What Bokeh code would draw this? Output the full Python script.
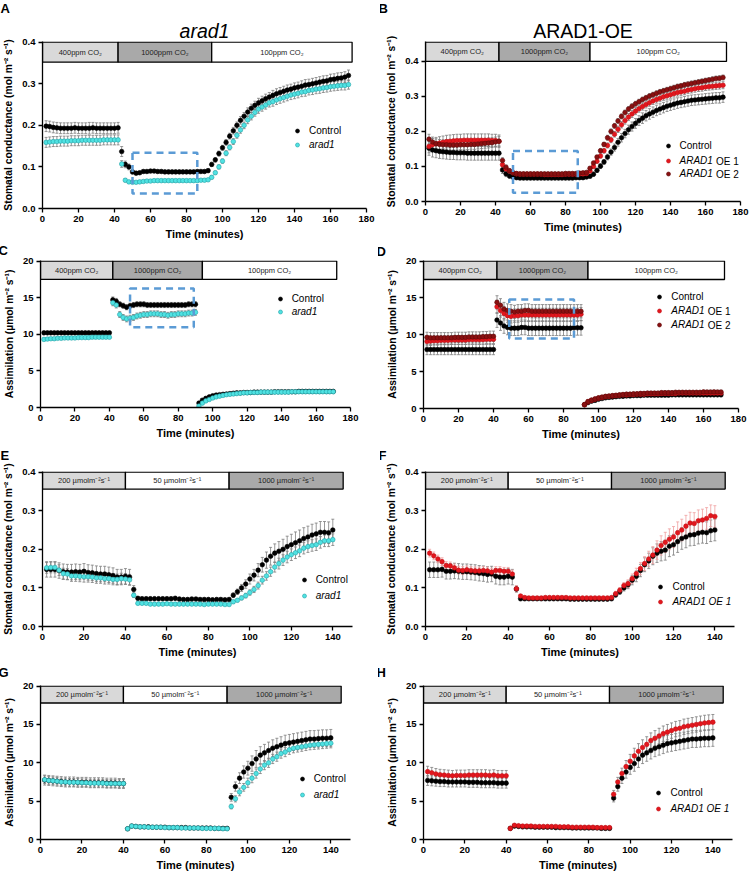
from bokeh.plotting import figure
from bokeh.models import (ColumnDataSource, Whisker, TeeHead, Legend, LegendItem, Title,
                          Label, FixedTicker, PrintfTickFormatter, Range1d, BoxAnnotation)
from bokeh.layouts import column, row
from bokeh.embed import file_html
from bokeh.resources import INLINE
from bokeh.core.properties import value

FONT = "Liberation Sans"

# ---------------- data ----------------
T_CO2 = [2, 4, 6, 8, 10, 12, 14, 16, 18, 20, 22, 24, 26, 28, 30, 32, 34, 36, 38, 40, 42,
         44, 46, 48, 50, 52, 54, 56, 58, 60, 62, 64, 66, 68, 70, 72, 74, 76, 78, 80, 82, 84, 86, 88, 90, 92,
         94, 96, 98, 100, 102, 104, 106, 108, 110, 112, 114, 116, 118, 120, 122, 124, 126, 128, 130,
         132, 134, 136, 138, 140, 142, 144, 146, 148, 150, 152, 154, 156, 158, 160, 162, 164, 166, 168, 170]
T_LIGHT = [2, 4, 6, 8, 10, 12, 14, 16, 18, 20, 22, 24, 26, 28, 30, 32, 34, 36, 38, 40,
           42, 44, 46, 48, 50, 52, 54, 56, 58, 60, 62, 64, 66, 68, 70, 72, 74, 76, 78, 80, 82, 84, 86, 88, 90,
           92, 94, 96, 98, 100, 102, 104, 106, 108, 110, 112, 114, 116, 118, 120, 122, 124, 126, 128, 130,
           132, 134, 136, 138, 140]

CO2_PHASE_LABELS = ["400ppm CO\u2082", "1000ppm CO\u2082", "100ppm CO\u2082"]
CO2_PHASE_EDGES = [0, 42, 94, 172]
LIGHT_PHASE_LABELS = ["200 \u00b5molm\u207b\u00b2s\u207b\u00b9", "50 \u00b5molm\u207b\u00b2s\u207b\u00b9",
                      "1000 \u00b5molm\u207b\u00b2s\u207b\u00b9"]
LIGHT_PHASE_EDGES = [0, 40, 90, 145]
X_TICKS_CO2 = [0, 20, 40, 60, 80, 100, 120, 140, 160, 180]
X_TICKS_LIGHT = [0, 20, 40, 60, 80, 100, 120, 140]
GS_TICKS = [0.0, 0.1, 0.2, 0.3, 0.4]
AS_TICKS = [0, 5, 10, 15, 20]

# Panel A  (stomatal conductance, CO2 steps, arad1)
A_CTRL = ([0.198, 0.197, 0.195, 0.194, 0.193, 0.193, 0.193, 0.193, 0.194, 0.193, 0.193, 0.193, 0.193,
           0.194, 0.193, 0.193, 0.193, 0.193, 0.193, 0.193, 0.194]
          + [0.137, 0.106, 0.100, 0.088, 0.085, 0.086, 0.089, 0.089, 0.090, 0.090, 0.089, 0.089, 0.088,
             0.088, 0.088, 0.088, 0.088, 0.088, 0.088, 0.088, 0.088, 0.089, 0.089, 0.089, 0.091]
          + [0.106, 0.117, 0.132, 0.146, 0.159, 0.174, 0.187, 0.200, 0.212, 0.222, 0.232, 0.241, 0.248,
             0.254, 0.259, 0.264, 0.268, 0.272, 0.276, 0.279, 0.282, 0.285, 0.287, 0.290, 0.292, 0.294,
             0.297, 0.298, 0.300, 0.302, 0.304, 0.306, 0.307, 0.310, 0.311, 0.313, 0.314, 0.316, 0.320])
A_CTRL_ERR = ([0.013, 0.013, 0.013, 0.013, 0.013, 0.013, 0.013, 0.013, 0.013, 0.013, 0.013, 0.013, 0.014,
               0.013, 0.013, 0.013, 0.013, 0.013, 0.013, 0.013, 0.013]
              + [0.012, 0.008, 0.007, 0.005, 0.004, 0.004, 0.004, 0.004, 0.004, 0.004, 0.004, 0.004, 0.004,
                 0.004, 0.004, 0.004, 0.004, 0.004, 0.004, 0.004, 0.004, 0.004, 0.004, 0.004, 0.004]
              + [0.005, 0.005, 0.006, 0.006, 0.007, 0.007, 0.008, 0.008, 0.009, 0.009, 0.010, 0.010, 0.010,
                 0.011, 0.011, 0.011, 0.011, 0.012, 0.012, 0.012, 0.012, 0.012, 0.012, 0.012, 0.012, 0.013,
                 0.013, 0.013, 0.013, 0.013, 0.013, 0.013, 0.013, 0.013, 0.013, 0.013, 0.013, 0.013, 0.013])
A_ARAD1 = ([0.159, 0.160, 0.161, 0.161, 0.162, 0.162, 0.162, 0.163, 0.163, 0.163, 0.164, 0.164, 0.164,
            0.164, 0.164, 0.164, 0.165, 0.165, 0.165, 0.165, 0.165]
           + [0.107, 0.068, 0.064, 0.063, 0.063, 0.064, 0.065, 0.066, 0.066, 0.067, 0.067, 0.067, 0.067,
              0.067, 0.067, 0.067, 0.067, 0.067, 0.067, 0.067, 0.067, 0.067, 0.068, 0.068, 0.069]
           + [0.075, 0.086, 0.100, 0.114, 0.133, 0.147, 0.161, 0.176, 0.189, 0.200, 0.213, 0.222, 0.231,
              0.239, 0.244, 0.249, 0.254, 0.257, 0.261, 0.264, 0.267, 0.270, 0.273, 0.275, 0.277, 0.280,
              0.281, 0.284, 0.285, 0.287, 0.288, 0.290, 0.291, 0.293, 0.294, 0.295, 0.296, 0.296, 0.298])
A_ARAD1_ERR = ([0.012, 0.012, 0.012, 0.012, 0.012, 0.012, 0.012, 0.012, 0.012, 0.012, 0.012, 0.012, 0.012,
                0.012, 0.012, 0.012, 0.012, 0.012, 0.012, 0.012, 0.012]
               + [0.008, 0.004, 0.003, 0.003, 0.003, 0.003, 0.003, 0.003, 0.003, 0.003, 0.003, 0.003, 0.003,
                  0.003, 0.003, 0.003, 0.003, 0.003, 0.003, 0.003, 0.003, 0.003, 0.003, 0.003, 0.003]
               + [0.004, 0.004, 0.005, 0.005, 0.006, 0.006, 0.007, 0.007, 0.008, 0.008, 0.009, 0.009, 0.009,
                  0.010, 0.010, 0.010, 0.010, 0.011, 0.011, 0.011, 0.011, 0.011, 0.011, 0.011, 0.011, 0.011,
                  0.011, 0.011, 0.011, 0.011, 0.011, 0.011, 0.011, 0.011, 0.011, 0.011, 0.011, 0.011, 0.011])

# Panel B  (stomatal conductance, CO2 steps, ARAD1-OE)
B_CTRL = ([0.152, 0.147, 0.145, 0.143, 0.142, 0.141, 0.140, 0.140, 0.139, 0.139, 0.139, 0.138, 0.138,
           0.138, 0.138, 0.138, 0.138, 0.138, 0.138, 0.138, 0.138]
          + [0.090, 0.079, 0.073, 0.070, 0.068, 0.067, 0.067, 0.067, 0.067, 0.067, 0.067, 0.067, 0.067,
             0.067, 0.067, 0.067, 0.067, 0.067, 0.067, 0.067, 0.067, 0.068, 0.068, 0.068, 0.070]
          + [0.072, 0.078, 0.089, 0.101, 0.113, 0.127, 0.141, 0.154, 0.169, 0.182, 0.194, 0.205, 0.214,
             0.223, 0.231, 0.238, 0.245, 0.250, 0.255, 0.260, 0.264, 0.268, 0.272, 0.275, 0.278, 0.281,
             0.283, 0.285, 0.287, 0.289, 0.290, 0.291, 0.292, 0.293, 0.294, 0.295, 0.296, 0.296, 0.298])
B_CTRL_ERR = ([0.020, 0.020, 0.020, 0.020, 0.020, 0.020, 0.020, 0.020, 0.020, 0.020, 0.020, 0.020, 0.020,
               0.020, 0.020, 0.020, 0.020, 0.020, 0.020, 0.020, 0.020]
              + [0.010, 0.008, 0.007, 0.006, 0.005, 0.005, 0.005, 0.005, 0.005, 0.005, 0.005, 0.005, 0.005,
                 0.005, 0.005, 0.005, 0.005, 0.005, 0.005, 0.005, 0.005, 0.005, 0.005, 0.005, 0.005]
              + [0.005, 0.006, 0.006, 0.007, 0.007, 0.008, 0.009, 0.010, 0.011, 0.012, 0.012, 0.013, 0.013,
                 0.014, 0.014, 0.015, 0.015, 0.015, 0.015, 0.015, 0.015, 0.015, 0.015, 0.015, 0.015, 0.015,
                 0.015, 0.015, 0.015, 0.015, 0.015, 0.015, 0.015, 0.015, 0.015, 0.015, 0.015, 0.015, 0.015])
B_OE1 = ([0.157, 0.162, 0.165, 0.167, 0.169, 0.171, 0.172, 0.173, 0.174, 0.174, 0.175, 0.175, 0.175,
          0.175, 0.175, 0.175, 0.175, 0.175, 0.174, 0.174, 0.172]
         + [0.105, 0.093, 0.087, 0.082, 0.079, 0.078, 0.078, 0.078, 0.078, 0.078, 0.078, 0.078, 0.077,
            0.077, 0.077, 0.077, 0.077, 0.077, 0.078, 0.078, 0.078, 0.078, 0.079, 0.079, 0.080]
         + [0.087, 0.100, 0.115, 0.130, 0.145, 0.160, 0.176, 0.192, 0.206, 0.219, 0.231, 0.241, 0.250,
            0.258, 0.265, 0.271, 0.277, 0.282, 0.287, 0.291, 0.295, 0.299, 0.302, 0.305, 0.308, 0.311,
            0.313, 0.315, 0.318, 0.320, 0.322, 0.324, 0.325, 0.327, 0.328, 0.329, 0.330, 0.331, 0.332])
B_OE1_ERR = ([0.018, 0.018, 0.018, 0.018, 0.018, 0.018, 0.018, 0.018, 0.018, 0.018, 0.018, 0.018, 0.018,
              0.018, 0.018, 0.018, 0.018, 0.018, 0.018, 0.018, 0.018]
             + [0.008, 0.006, 0.005, 0.004, 0.004, 0.004, 0.004, 0.004, 0.004, 0.004, 0.004, 0.004, 0.004,
                0.004, 0.004, 0.004, 0.004, 0.004, 0.004, 0.004, 0.004, 0.004, 0.004, 0.004, 0.004]
             + [0.005, 0.005, 0.006, 0.006, 0.007, 0.007, 0.008, 0.008, 0.009, 0.009, 0.010, 0.010, 0.010,
                0.010, 0.010, 0.010, 0.010, 0.010, 0.010, 0.010, 0.010, 0.010, 0.010, 0.010, 0.010, 0.010,
                0.010, 0.010, 0.010, 0.010, 0.010, 0.010, 0.010, 0.010, 0.010, 0.010, 0.010, 0.010, 0.010])
B_OE2 = ([0.178, 0.170, 0.165, 0.163, 0.162, 0.162, 0.161, 0.161, 0.161, 0.162, 0.162, 0.162, 0.163,
          0.163, 0.164, 0.165, 0.166, 0.167, 0.168, 0.170, 0.172]
         + [0.117, 0.098, 0.088, 0.082, 0.080, 0.079, 0.079, 0.079, 0.079, 0.079, 0.079, 0.079, 0.079,
            0.079, 0.079, 0.079, 0.079, 0.079, 0.080, 0.080, 0.080, 0.080, 0.081, 0.082, 0.083]
         + [0.095, 0.110, 0.127, 0.145, 0.163, 0.182, 0.200, 0.216, 0.230, 0.243, 0.254, 0.264, 0.272,
            0.279, 0.285, 0.291, 0.296, 0.301, 0.305, 0.309, 0.313, 0.316, 0.319, 0.322, 0.325, 0.328,
            0.330, 0.333, 0.335, 0.337, 0.339, 0.341, 0.343, 0.345, 0.347, 0.349, 0.351, 0.352, 0.354])
B_OE2_ERR = ([0.014, 0.014, 0.014, 0.014, 0.014, 0.014, 0.014, 0.014, 0.014, 0.014, 0.014, 0.014, 0.014,
              0.014, 0.014, 0.014, 0.014, 0.014, 0.014, 0.014, 0.014]
             + [0.008, 0.006, 0.005, 0.004, 0.004, 0.004, 0.004, 0.004, 0.004, 0.004, 0.004, 0.004, 0.004,
                0.004, 0.004, 0.004, 0.004, 0.004, 0.004, 0.004, 0.004, 0.004, 0.004, 0.004, 0.004]
             + [0.004, 0.005, 0.005, 0.006, 0.006, 0.007, 0.007, 0.007, 0.007, 0.007, 0.007, 0.007, 0.007,
                0.007, 0.007, 0.007, 0.007, 0.007, 0.007, 0.007, 0.007, 0.007, 0.007, 0.007, 0.007, 0.007,
                0.007, 0.007, 0.007, 0.007, 0.007, 0.007, 0.007, 0.007, 0.007, 0.007, 0.007, 0.007, 0.007])

# Panel C  (assimilation, CO2 steps, arad1)
C_CTRL = ([10.2, 10.2, 10.2, 10.2, 10.2, 10.2, 10.2, 10.2, 10.2, 10.2, 10.2, 10.2, 10.2, 10.2, 10.2,
           10.2, 10.2, 10.2, 10.2, 10.2]
          + [14.7, 14.5, 14.1, 13.9, 13.7, 13.9, 14.0, 14.1, 14.1, 14.1, 14.0, 14.0, 14.0, 14.0, 14.0,
             14.0, 14.0, 14.0, 14.0, 14.0, 14.0, 14.0, 14.1, 14.1, 14.1]
          + [0.6, 1.0, 1.25, 1.45, 1.6, 1.7, 1.75, 1.8, 1.85, 1.9, 1.95, 2.0, 2.0, 2.05, 2.05, 2.05, 2.1,
             2.1, 2.1, 2.1, 2.1, 2.1, 2.15, 2.15, 2.15, 2.15, 2.15, 2.15, 2.15, 2.2, 2.2, 2.2, 2.2, 2.2,
             2.2, 2.2, 2.2, 2.2, 2.2, 2.2])
C_CTRL_ERR = ([0.2, 0.2, 0.2, 0.2, 0.2, 0.2, 0.2, 0.2, 0.2, 0.2, 0.2, 0.2, 0.2, 0.2, 0.2, 0.2, 0.2, 0.2,
               0.2, 0.2]
              + [0.4, 0.4, 0.35, 0.35, 0.35, 0.35, 0.35, 0.35, 0.35, 0.35, 0.35, 0.35, 0.35, 0.35, 0.35,
                 0.35, 0.35, 0.35, 0.35, 0.35, 0.35, 0.35, 0.35, 0.35, 0.35]
              + [0.15, 0.15, 0.15, 0.15, 0.15, 0.15, 0.15, 0.15, 0.15, 0.15, 0.15, 0.15, 0.15, 0.15, 0.15,
                 0.15, 0.15, 0.15, 0.15, 0.15, 0.15, 0.15, 0.15, 0.15, 0.15, 0.15, 0.15, 0.15, 0.15, 0.15,
                 0.15, 0.15, 0.15, 0.15, 0.15, 0.15, 0.15, 0.15, 0.15, 0.15])
C_ARAD1 = ([9.3, 9.35, 9.4, 9.4, 9.45, 9.45, 9.5, 9.5, 9.5, 9.5, 9.55, 9.55, 9.55, 9.55, 9.6, 9.6, 9.6,
            9.6, 9.6, 9.6]
           + [14.3, 14.0, 12.7, 12.3, 12.1, 12.2, 12.3, 12.5, 12.6, 12.7, 12.7, 12.8, 12.8, 12.8, 12.7,
              12.7, 12.6, 12.7, 12.7, 12.8, 12.8, 12.8, 12.9, 12.9, 13.0]
           + [0.2, 0.6, 0.9, 1.1, 1.3, 1.45, 1.55, 1.65, 1.75, 1.8, 1.85, 1.9, 1.95, 2.0, 2.0, 2.05, 2.05,
              2.05, 2.1, 2.1, 2.1, 2.1, 2.1, 2.1, 2.1, 2.1, 2.1, 2.15, 2.15, 2.15, 2.15, 2.15, 2.15, 2.15,
              2.15, 2.15, 2.15, 2.15, 2.15, 2.15])
C_ARAD1_ERR = ([0.15, 0.15, 0.15, 0.15, 0.15, 0.15, 0.15, 0.15, 0.15, 0.15, 0.15, 0.15, 0.15, 0.15, 0.15,
                0.15, 0.15, 0.15, 0.15, 0.15]
               + [0.4, 0.4, 0.4, 0.4, 0.4, 0.4, 0.4, 0.4, 0.4, 0.4, 0.4, 0.4, 0.4, 0.4, 0.4, 0.4, 0.4, 0.4,
                  0.4, 0.4, 0.4, 0.4, 0.4, 0.4, 0.4]
               + [0.12, 0.12, 0.12, 0.12, 0.12, 0.12, 0.12, 0.12, 0.12, 0.12, 0.12, 0.12, 0.12, 0.12, 0.12,
                  0.12, 0.12, 0.12, 0.12, 0.12, 0.12, 0.12, 0.12, 0.12, 0.12, 0.12, 0.12, 0.12, 0.12, 0.12,
                  0.12, 0.12, 0.12, 0.12, 0.12, 0.12, 0.12, 0.12, 0.12, 0.12])

# Panel D  (assimilation, CO2 steps, ARAD1-OE)
D_CTRL = ([8.0, 8.0, 8.0, 8.0, 8.0, 8.0, 8.0, 8.0, 8.0, 8.0, 8.0, 8.0, 8.0, 8.0, 8.0, 8.0, 8.0, 8.0,
           8.0, 8.0]
          + [12.0, 11.6, 11.2, 11.0, 10.9, 10.9, 10.9, 11.0, 11.0, 10.9, 10.9, 10.9, 10.9, 10.9, 10.9,
             10.9, 10.9, 10.9, 10.9, 10.9, 10.9, 10.9, 10.95, 10.95, 10.95]
          + [0.5, 0.8, 1.0, 1.1, 1.25, 1.35, 1.45, 1.5, 1.55, 1.6, 1.65, 1.65, 1.7, 1.7, 1.75, 1.75, 1.75,
             1.8, 1.8, 1.8, 1.8, 1.8, 1.8, 1.8, 1.8, 1.85, 1.85, 1.85, 1.85, 1.85, 1.85, 1.85, 1.85, 1.85,
             1.85, 1.85, 1.85, 1.85, 1.85, 1.85])
D_CTRL_ERR = ([0.7, 0.7, 0.7, 0.7, 0.7, 0.7, 0.7, 0.7, 0.7, 0.7, 0.7, 0.7, 0.7, 0.7, 0.7, 0.7, 0.7, 0.7,
               0.7, 0.7]
              + [1.0, 1.0, 1.0, 1.0, 1.0, 1.0, 1.0, 1.0, 1.0, 1.0, 1.0, 1.0, 1.0, 1.0, 1.0, 1.0, 1.0, 1.0,
                 1.0, 1.0, 1.0, 1.0, 1.0, 1.0, 1.0]
              + [0.15, 0.15, 0.15, 0.15, 0.15, 0.15, 0.15, 0.15, 0.15, 0.15, 0.15, 0.15, 0.15, 0.15, 0.15,
                 0.15, 0.15, 0.15, 0.15, 0.15, 0.15, 0.15, 0.15, 0.15, 0.15, 0.15, 0.15, 0.15, 0.15, 0.15,
                 0.15, 0.15, 0.15, 0.15, 0.15, 0.15, 0.15, 0.15, 0.15, 0.15])
D_OE1 = ([9.1, 9.15, 9.2, 9.2, 9.25, 9.25, 9.25, 9.3, 9.3, 9.3, 9.3, 9.3, 9.35, 9.35, 9.35, 9.35, 9.35,
          9.4, 9.4, 9.4]
         + [13.8, 13.3, 12.9, 12.6, 12.5, 12.6, 12.6, 12.7, 12.7, 12.7, 12.7, 12.7, 12.7, 12.7, 12.7, 12.7,
            12.7, 12.7, 12.7, 12.7, 12.7, 12.7, 12.7, 12.7, 12.8]
         + [0.5, 0.9, 1.1, 1.25, 1.4, 1.5, 1.6, 1.65, 1.7, 1.75, 1.8, 1.85, 1.85, 1.9, 1.9, 1.95, 1.95,
            1.95, 2.0, 2.0, 2.0, 2.0, 2.05, 2.05, 2.05, 2.05, 2.05, 2.1, 2.1, 2.1, 2.1, 2.1, 2.1, 2.1,
            2.1, 2.1, 2.1, 2.1, 2.1, 2.1])
D_OE1_ERR = ([0.6, 0.6, 0.6, 0.6, 0.6, 0.6, 0.6, 0.6, 0.6, 0.6, 0.6, 0.6, 0.6, 0.6, 0.6, 0.6, 0.6, 0.6,
              0.6, 0.6]
             + [0.9, 0.9, 0.9, 0.9, 0.9, 0.9, 0.9, 0.9, 0.9, 0.9, 0.9, 0.9, 0.9, 0.9, 0.9, 0.9, 0.9, 0.9,
                0.9, 0.9, 0.9, 0.9, 0.9, 0.9, 0.9]
             + [0.2, 0.2, 0.2, 0.2, 0.2, 0.2, 0.2, 0.2, 0.2, 0.2, 0.2, 0.2, 0.2, 0.2, 0.2, 0.2, 0.2, 0.2,
                0.2, 0.2, 0.2, 0.2, 0.2, 0.2, 0.2, 0.2, 0.2, 0.2, 0.2, 0.2, 0.2, 0.2, 0.2, 0.2, 0.2, 0.2,
                0.2, 0.2, 0.2, 0.2])
D_OE2 = ([9.65, 9.6, 9.6, 9.6, 9.6, 9.6, 9.6, 9.6, 9.65, 9.65, 9.65, 9.65, 9.7, 9.7, 9.7, 9.7, 9.75,
          9.75, 9.8, 9.8]
         + [14.4, 14.0, 13.5, 13.3, 13.2, 13.1, 13.2, 13.2, 13.3, 13.3, 13.2, 13.2, 13.2, 13.2, 13.2, 13.2,
            13.2, 13.2, 13.2, 13.2, 13.2, 13.2, 13.2, 13.2, 13.2]
         + [0.55, 0.95, 1.15, 1.3, 1.45, 1.55, 1.65, 1.7, 1.75, 1.8, 1.85, 1.9, 1.95, 1.95, 2.0, 2.0, 2.05,
            2.05, 2.1, 2.1, 2.1, 2.1, 2.15, 2.15, 2.15, 2.15, 2.2, 2.2, 2.2, 2.2, 2.2, 2.2, 2.2, 2.2,
            2.25, 2.25, 2.25, 2.25, 2.25, 2.25])
D_OE2_ERR = ([0.7, 0.7, 0.7, 0.7, 0.7, 0.7, 0.7, 0.7, 0.7, 0.7, 0.7, 0.7, 0.7, 0.7, 0.7, 0.7, 0.7, 0.7,
              0.7, 0.7]
             + [0.9, 0.9, 0.9, 0.9, 0.9, 0.9, 0.9, 0.9, 0.9, 0.9, 0.9, 0.9, 0.9, 0.9, 0.9, 0.9, 0.9, 0.9,
                0.9, 0.9, 0.9, 0.9, 0.9, 0.9, 0.9]
             + [0.2, 0.2, 0.2, 0.2, 0.2, 0.2, 0.2, 0.2, 0.2, 0.2, 0.2, 0.2, 0.2, 0.2, 0.2, 0.2, 0.2, 0.2,
                0.2, 0.2, 0.2, 0.2, 0.2, 0.2, 0.2, 0.2, 0.2, 0.2, 0.2, 0.2, 0.2, 0.2, 0.2, 0.2, 0.2, 0.2,
                0.2, 0.2, 0.2, 0.2])

# Panel E  (stomatal conductance, light steps, arad1)
E_CTRL = ([0.148, 0.148, 0.148, 0.145, 0.142, 0.141, 0.141, 0.142, 0.141, 0.143, 0.140, 0.139, 0.137,
           0.136, 0.136, 0.134, 0.132, 0.128, 0.128, 0.130, 0.128]
          + [0.096]
          + [0.073, 0.072, 0.072, 0.072, 0.072, 0.072, 0.072, 0.072, 0.072, 0.073, 0.071, 0.070, 0.070,
             0.071, 0.071, 0.070, 0.070, 0.070, 0.069, 0.070, 0.070, 0.069, 0.070]
          + [0.081, 0.090, 0.100, 0.110, 0.123, 0.133, 0.146, 0.160, 0.172, 0.182, 0.190, 0.195, 0.200,
             0.207, 0.212, 0.217, 0.222, 0.228, 0.232, 0.237, 0.240, 0.244, 0.244, 0.243, 0.250])
E_CTRL_ERR = ([0.020, 0.020, 0.020, 0.020, 0.020, 0.020, 0.020, 0.020, 0.020, 0.020, 0.020, 0.020, 0.020,
               0.020, 0.020, 0.020, 0.020, 0.020, 0.020, 0.020, 0.020]
              + [0.010]
              + [0.005, 0.005, 0.005, 0.005, 0.005, 0.005, 0.005, 0.005, 0.005, 0.005, 0.005, 0.005, 0.005,
                 0.005, 0.005, 0.005, 0.005, 0.005, 0.005, 0.005, 0.005, 0.005, 0.005]
              + [0.006, 0.007, 0.009, 0.011, 0.013, 0.015, 0.017, 0.019, 0.021, 0.023, 0.024, 0.025, 0.026,
                 0.027, 0.027, 0.028, 0.028, 0.028, 0.028, 0.028, 0.028, 0.028, 0.028, 0.028, 0.028])
E_ARAD1 = ([0.152, 0.153, 0.153, 0.146, 0.137, 0.136, 0.131, 0.131, 0.130, 0.129, 0.129, 0.128, 0.126,
            0.126, 0.124, 0.124, 0.122, 0.122, 0.124, 0.123, 0.121]
           + [0.081]
           + [0.060, 0.060, 0.060, 0.058, 0.058, 0.058, 0.058, 0.059, 0.058, 0.058, 0.058, 0.058, 0.058,
              0.058, 0.058, 0.058, 0.057, 0.058, 0.058, 0.058, 0.058, 0.057, 0.057]
           + [0.064, 0.068, 0.074, 0.080, 0.088, 0.096, 0.106, 0.120, 0.131, 0.142, 0.154, 0.163, 0.172,
              0.180, 0.186, 0.191, 0.196, 0.203, 0.207, 0.210, 0.212, 0.218, 0.222, 0.222, 0.225])
E_ARAD1_ERR = ([0.014, 0.014, 0.014, 0.014, 0.014, 0.014, 0.014, 0.014, 0.014, 0.014, 0.014, 0.014, 0.014,
                0.014, 0.014, 0.014, 0.014, 0.014, 0.014, 0.014, 0.014]
               + [0.006]
               + [0.003, 0.003, 0.003, 0.003, 0.003, 0.003, 0.003, 0.003, 0.003, 0.003, 0.003, 0.003, 0.003,
                  0.003, 0.003, 0.003, 0.003, 0.003, 0.003, 0.003, 0.003, 0.003, 0.003]
               + [0.004, 0.004, 0.005, 0.006, 0.007, 0.008, 0.009, 0.010, 0.011, 0.012, 0.013, 0.014, 0.014,
                  0.015, 0.015, 0.015, 0.015, 0.015, 0.015, 0.015, 0.015, 0.015, 0.015, 0.015, 0.015])

# Panel F  (stomatal conductance, light steps, ARAD1 OE 1)
F_CTRL = ([0.147, 0.147, 0.147, 0.148, 0.143, 0.143, 0.144, 0.143, 0.142, 0.142, 0.141, 0.140, 0.138,
           0.137, 0.135, 0.136, 0.130, 0.128, 0.128, 0.130, 0.128]
          + [0.097]
          + [0.072, 0.072, 0.072, 0.072, 0.072, 0.072, 0.072, 0.072, 0.072, 0.072, 0.072, 0.072, 0.071,
             0.071, 0.071, 0.071, 0.071, 0.071, 0.071, 0.071, 0.071, 0.071, 0.072]
          + [0.082, 0.090, 0.100, 0.108, 0.120, 0.130, 0.145, 0.160, 0.170, 0.182, 0.190, 0.195, 0.198,
             0.208, 0.212, 0.220, 0.228, 0.232, 0.237, 0.238, 0.242, 0.244, 0.243, 0.248, 0.250])
F_CTRL_ERR = ([0.020, 0.020, 0.020, 0.020, 0.020, 0.020, 0.020, 0.020, 0.020, 0.020, 0.020, 0.020, 0.020,
               0.020, 0.020, 0.020, 0.020, 0.020, 0.020, 0.020, 0.020]
              + [0.008]
              + [0.005, 0.005, 0.005, 0.005, 0.005, 0.005, 0.005, 0.005, 0.005, 0.005, 0.005, 0.005, 0.005,
                 0.005, 0.005, 0.005, 0.005, 0.005, 0.005, 0.005, 0.005, 0.005, 0.005]
              + [0.006, 0.007, 0.008, 0.010, 0.012, 0.014, 0.016, 0.018, 0.020, 0.022, 0.024, 0.025, 0.026,
                 0.027, 0.027, 0.028, 0.028, 0.028, 0.028, 0.028, 0.028, 0.028, 0.028, 0.028, 0.028])
F_OE1 = ([0.190, 0.183, 0.175, 0.168, 0.158, 0.157, 0.152, 0.146, 0.145, 0.147, 0.145, 0.144, 0.144,
          0.145, 0.144, 0.141, 0.145, 0.145, 0.143, 0.143, 0.136]
         + [0.098]
         + [0.079, 0.075, 0.074, 0.074, 0.074, 0.074, 0.075, 0.075, 0.075, 0.075, 0.075, 0.075, 0.074,
            0.074, 0.074, 0.074, 0.074, 0.074, 0.074, 0.074, 0.074, 0.074, 0.075]
         + [0.085, 0.094, 0.106, 0.111, 0.124, 0.137, 0.150, 0.163, 0.175, 0.185, 0.198, 0.210, 0.218,
            0.226, 0.232, 0.243, 0.250, 0.260, 0.268, 0.267, 0.274, 0.276, 0.280, 0.287, 0.285])
F_OE1_ERR = ([0.010, 0.010, 0.010, 0.010, 0.010, 0.010, 0.010, 0.010, 0.010, 0.010, 0.010, 0.010, 0.010,
              0.010, 0.010, 0.010, 0.010, 0.010, 0.010, 0.010, 0.010]
             + [0.008]
             + [0.004, 0.004, 0.004, 0.004, 0.004, 0.004, 0.004, 0.004, 0.004, 0.004, 0.004, 0.004, 0.004,
                0.004, 0.004, 0.004, 0.004, 0.004, 0.004, 0.004, 0.004, 0.004, 0.004]
             + [0.006, 0.007, 0.008, 0.010, 0.012, 0.014, 0.016, 0.018, 0.020, 0.022, 0.024, 0.025, 0.026,
                0.027, 0.027, 0.028, 0.028, 0.028, 0.028, 0.028, 0.028, 0.028, 0.028, 0.028, 0.028])

# Panel G  (assimilation, light steps, arad1)
G_CTRL = ([7.75, 7.7, 7.65, 7.6, 7.55, 7.5, 7.5, 7.5, 7.45, 7.45, 7.45, 7.4, 7.4, 7.4, 7.4, 7.35, 7.35,
           7.35, 7.3, 7.3]
          + [1.4, 1.75, 1.7, 1.65, 1.65, 1.65, 1.6, 1.6, 1.6, 1.6, 1.55, 1.55, 1.55, 1.55, 1.55, 1.5, 1.5,
             1.5, 1.5, 1.5, 1.5, 1.45, 1.45, 1.45, 1.45]
          + [5.5, 6.9, 8.0, 8.8, 9.3, 9.9, 10.5, 11.0, 11.3, 11.6, 11.9, 12.1, 12.3, 12.5, 12.6, 12.7, 12.8,
             12.9, 13.0, 13.1, 13.1, 13.15, 13.2, 13.2, 13.25])
G_CTRL_ERR = ([0.65, 0.65, 0.65, 0.65, 0.65, 0.65, 0.65, 0.65, 0.65, 0.65, 0.65, 0.65, 0.65, 0.65, 0.65,
               0.65, 0.65, 0.65, 0.65, 0.65]
              + [0.1, 0.1, 0.1, 0.1, 0.1, 0.1, 0.1, 0.1, 0.1, 0.1, 0.1, 0.1, 0.1, 0.1, 0.1, 0.1, 0.1, 0.1,
                 0.1, 0.1, 0.1, 0.1, 0.1, 0.1, 0.1]
              + [0.5, 0.6, 0.7, 0.8, 0.9, 1.0, 1.1, 1.1, 1.1, 1.1, 1.1, 1.1, 1.1, 1.1, 1.1, 1.1, 1.1, 1.1,
                 1.1, 1.1, 1.1, 1.1, 1.1, 1.1, 1.1])
G_ARAD1 = ([7.8, 7.7, 7.65, 7.6, 7.5, 7.5, 7.45, 7.45, 7.45, 7.4, 7.4, 7.35, 7.35, 7.35, 7.35, 7.3, 7.3,
            7.3, 7.3, 7.3]
           + [1.4, 1.75, 1.7, 1.65, 1.65, 1.6, 1.6, 1.6, 1.6, 1.55, 1.55, 1.55, 1.55, 1.5, 1.5, 1.5, 1.5,
              1.5, 1.45, 1.45, 1.45, 1.45, 1.45, 1.4, 1.4]
           + [4.3, 5.3, 6.2, 6.8, 7.4, 8.0, 8.6, 9.2, 9.7, 10.0, 10.5, 10.8, 11.2, 11.4, 11.7, 11.9, 12.0,
              12.1, 12.2, 12.3, 12.35, 12.4, 12.45, 12.5, 12.55])
G_ARAD1_ERR = ([0.5, 0.5, 0.5, 0.5, 0.5, 0.5, 0.5, 0.5, 0.5, 0.5, 0.5, 0.5, 0.5, 0.5, 0.5, 0.5, 0.5, 0.5,
                0.5, 0.5]
               + [0.08, 0.08, 0.08, 0.08, 0.08, 0.08, 0.08, 0.08, 0.08, 0.08, 0.08, 0.08, 0.08, 0.08, 0.08,
                  0.08, 0.08, 0.08, 0.08, 0.08, 0.08, 0.08, 0.08, 0.08, 0.08]
               + [0.3, 0.4, 0.5, 0.5, 0.6, 0.6, 0.6, 0.6, 0.6, 0.6, 0.6, 0.6, 0.6, 0.6, 0.6, 0.6, 0.6, 0.6,
                  0.6, 0.6, 0.6, 0.6, 0.6, 0.6, 0.6])

# Panel H  (assimilation, light steps, ARAD1 OE 1)
H_CTRL = ([7.7, 7.65, 7.6, 7.55, 7.55, 7.5, 7.5, 7.5, 7.5, 7.5, 7.45, 7.45, 7.45, 7.4, 7.4, 7.4, 7.4,
           7.35, 7.35, 7.35]
          + [1.45, 1.75, 1.7, 1.65, 1.65, 1.65, 1.6, 1.6, 1.6, 1.6, 1.6, 1.55, 1.55, 1.55, 1.55, 1.5, 1.5,
             1.5, 1.5, 1.5, 1.5, 1.5, 1.45, 1.45, 1.45]
          + [5.4, 6.9, 8.0, 8.8, 9.4, 9.9, 10.5, 11.0, 11.3, 11.6, 11.9, 12.1, 12.3, 12.5, 12.6, 12.7, 12.8,
             12.9, 13.0, 13.1, 13.1, 13.15, 13.2, 13.2, 13.25])
H_CTRL_ERR = ([0.65, 0.65, 0.65, 0.65, 0.65, 0.65, 0.65, 0.65, 0.65, 0.65, 0.65, 0.65, 0.65, 0.65, 0.65,
               0.65, 0.65, 0.65, 0.65, 0.65]
              + [0.1, 0.1, 0.1, 0.1, 0.1, 0.1, 0.1, 0.1, 0.1, 0.1, 0.1, 0.1, 0.1, 0.1, 0.1, 0.1, 0.1, 0.1,
                 0.1, 0.1, 0.1, 0.1, 0.1, 0.1, 0.1]
              + [0.5, 0.6, 0.7, 0.8, 0.9, 1.0, 1.1, 1.1, 1.1, 1.1, 1.1, 1.1, 1.1, 1.1, 1.1, 1.1, 1.1, 1.1,
                 1.1, 1.1, 1.1, 1.1, 1.1, 1.1, 1.1])
H_OE1 = ([8.85, 8.7, 8.55, 8.45, 8.4, 8.35, 8.3, 8.35, 8.35, 8.35, 8.4, 8.4, 8.4, 8.4, 8.4, 8.35, 8.4,
          8.3, 8.3, 8.3]
         + [1.45, 1.85, 1.8, 1.75, 1.75, 1.75, 1.7, 1.7, 1.7, 1.7, 1.7, 1.7, 1.65, 1.65, 1.65, 1.6, 1.6, 1.6,
            1.6, 1.6, 1.6, 1.55, 1.55, 1.55, 1.55]
         + [5.9, 7.5, 8.6, 9.5, 10.2, 10.9, 11.5, 12.0, 12.4, 12.9, 13.2, 13.5, 13.8, 14.0, 14.2, 14.4, 14.5,
            14.7, 14.8, 14.9, 15.0, 15.1, 15.2, 15.25, 15.3])
H_OE1_ERR = ([0.7, 0.7, 0.7, 0.7, 0.7, 0.7, 0.7, 0.7, 0.7, 0.7, 0.7, 0.7, 0.7, 0.7, 0.7, 0.7, 0.7, 0.7,
              0.7, 0.7]
             + [0.1, 0.1, 0.1, 0.1, 0.1, 0.1, 0.1, 0.1, 0.1, 0.1, 0.1, 0.1, 0.1, 0.1, 0.1, 0.1, 0.1, 0.1,
                0.1, 0.1, 0.1, 0.1, 0.1, 0.1, 0.1]
             + [0.5, 0.6, 0.7, 0.8, 0.9, 1.0, 1.0, 1.0, 1.0, 1.0, 1.0, 1.0, 1.0, 1.0, 1.0, 1.0, 1.0, 1.0,
                1.0, 1.0, 1.0, 1.0, 1.0, 1.0, 1.0])

# highlight boxes (left, right, bottom, top) in data units
BOX_A = (50, 86, 0.036, 0.134)
BOX_B = (50, 87, 0.025, 0.144)
BOX_C = (52, 89, 10.95, 16.25)
BOX_D = (49, 86, 9.5, 14.8)

# ---------------- styles ----------------
ERR_GREY = "#7d7d7d"
STY_CTRL = dict(fill="#000000", line="#000000", err=ERR_GREY)
STY_ARAD1 = dict(fill="#50e2e2", line="#23a2a8", err=ERR_GREY)
STY_OE1 = dict(fill="#e3161d", line="#c21016", err=ERR_GREY)
STY_OE1_PINK = dict(fill="#e3161d", line="#c21016", err="#f0a0a0")
STY_OE2 = dict(fill="#8a1011", line="#5e0808", err=ERR_GREY)
CO2_BAND_COLORS = ["#d9d9d9", "#a9a9a9", "#ffffff"]
LIGHT_BAND_COLORS = ["#d9d9d9", "#ffffff", "#a9a9a9"]
GS_LABEL = "Stomatal conductance (mol m\u207b\u00b2 s\u207b\u00b9)"
AS_LABEL = "Assimilation (\u00b5mol m\u207b\u00b2 s\u207b\u00b9)"
LETTER_SIZE = "13px"
LETTER_PANEL = 16.5


def make_panel(letter, name, name_italic, t, series, labels, edges, band_colors,
               x_end, xticks, y_end, band_lo, band_hi, yticks, yfmt, ylabel, geom, legend, box=None):
    ml, fw, mr, mt, fh, mb = geom
    p = figure(frame_width=fw, frame_height=fh, output_backend="svg", toolbar_location=None,
               x_range=Range1d(0, x_end), y_range=Range1d(0, y_end * 1.004),
               min_border_left=ml, min_border_right=mr, min_border_top=mt, min_border_bottom=mb,
               title=None, background_fill_color="white", border_fill_color="white",
               outline_line_color=None)
    if name is not None:
        p.add_layout(Title(text=name, align="center", vertical_align="bottom", standoff=0,
                           text_font=FONT, text_font_size="19.5px",
                           text_font_style="italic" if name_italic else "normal",
                           text_color="black"), "above")
        p.add_layout(Title(text=letter, align="left", vertical_align="top", offset=-(ml + 2),
                           standoff=0, text_font=FONT, text_font_size=LETTER_SIZE,
                           text_font_style="bold", text_color="black"), "above")
    else:
        p.add_layout(Title(text=letter, align="left", vertical_align="top", offset=-(ml + 2),
                           standoff=max(0.0, mt - 0.5 - LETTER_PANEL), text_font=FONT,
                           text_font_size=LETTER_SIZE, text_font_style="bold", text_color="black"), "above")
    p.xgrid.visible = False
    p.ygrid.visible = False

    for ax in (p.xaxis[0], p.yaxis[0]):
        ax.axis_line_width = 1.3
        ax.axis_line_color = "black"
        ax.major_tick_line_width = 1.3
        ax.major_tick_line_color = "black"
        ax.major_tick_out = 4
        ax.major_tick_in = 0
        ax.minor_tick_line_color = None
        ax.major_label_text_font = FONT
        ax.major_label_text_font_style = "bold"
        ax.major_label_text_font_size = "9.5px"
        ax.major_label_text_color = "black"
        ax.major_label_standoff = 3
        ax.axis_label_text_font = FONT
        ax.axis_label_text_font_style = "bold"
        ax.axis_label_text_color = "black"
    p.xaxis.axis_label_standoff = 3
    p.yaxis.axis_label_standoff = 5
    p.xaxis.ticker = FixedTicker(ticks=xticks)
    p.yaxis.ticker = FixedTicker(ticks=yticks)
    p.yaxis.formatter = PrintfTickFormatter(format=yfmt)
    p.xaxis.axis_label = "Time (minutes)"
    p.xaxis.axis_label_text_font_size = "11px"
    p.yaxis.axis_label = ylabel
    p.yaxis.axis_label_text_font_size = "10.3px"

    # condition bar
    mids = [(a + b) / 2 for a, b in zip(edges[:-1], edges[1:])]
    bsrc = ColumnDataSource(dict(left=edges[:-1], right=edges[1:], label=labels,
                                 color=band_colors, mid=mids))
    p.quad(left="left", right="right", bottom=band_lo, top=band_hi, fill_color="color",
           line_color="black", line_width=1.3, source=bsrc)
    p.text(x="mid", y=(band_lo + band_hi) / 2, text="label", source=bsrc, text_font=value(FONT),
           text_font_size="7.5px", text_align="center", text_baseline="middle", text_color="#222222")

    if box is not None:
        p.add_layout(BoxAnnotation(left=box[0], right=box[1], bottom=box[2], top=box[3],
                                   fill_alpha=0, fill_color=None, line_color="#5b9bd5", line_alpha=1.0,
                                   line_width=2.5, line_dash="7 5", level="overlay"))

    renderers = []
    for vals, errs, st in series:
        if len(vals) != len(t) or len(errs) != len(t):
            raise ValueError("length mismatch in panel %s: %d %d %d" % (letter, len(t), len(vals), len(errs)))
        src = ColumnDataSource(dict(t=t, y=vals,
                                    lo=[v - e for v, e in zip(vals, errs)],
                                    hi=[v + e for v, e in zip(vals, errs)]))
        wh = Whisker(source=src, base="t", upper="hi", lower="lo", line_color=st["err"], line_width=0.8,
                     upper_head=TeeHead(size=3, line_color=st["err"], line_width=0.8),
                     lower_head=TeeHead(size=3, line_color=st["err"], line_width=0.8))
        p.add_layout(wh)
        r = p.scatter("t", "y", source=src, size=4.6, fill_color=st["fill"], line_color=st["line"],
                      line_width=0.6)
        renderers.append(r)

    for idx, lab, ital, suffix, fx, fy in legend:
        lx = fx * fw - 5
        ly = fy * fh - 6.5
        lg = Legend(items=[LegendItem(label=lab, renderers=[renderers[idx]])], location=(lx, ly),
                    orientation="vertical", border_line_color=None, background_fill_alpha=0,
                    padding=0, margin=0, spacing=0, glyph_width=10, glyph_height=13, label_height=13,
                    label_standoff=7, label_text_font=FONT, label_text_font_size="10px",
                    label_text_font_style="italic" if ital else "normal", label_text_color="black")
        p.add_layout(lg)
        if suffix:
            p.add_layout(Label(x=fx * fw + 48, y=fy * fh, x_units="screen", y_units="screen", text=suffix,
                               text_font=FONT, text_font_size="10px", text_baseline="middle",
                               text_align="left", text_color="black"))
    return p


# geometry: (min_border_left, frame_width, min_border_right, min_border_top, frame_height, min_border_bottom)
pA = make_panel("A", "arad1", True, T_CO2,
                [(A_CTRL, A_CTRL_ERR, STY_CTRL), (A_ARAD1, A_ARAD1_ERR, STY_ARAD1)],
                CO2_PHASE_LABELS, CO2_PHASE_EDGES, CO2_BAND_COLORS, 180, X_TICKS_CO2,
                0.4, 0.352, 0.4, GS_TICKS, "%.1f", GS_LABEL, (40, 324, 14, 41, 167, 33),
                [(0, "Control", False, None, 0.787, 0.466), (1, "arad1", True, None, 0.787, 0.379)], BOX_A)

pB = make_panel("B", "ARAD1-OE", False, T_CO2,
                [(B_CTRL, B_CTRL_ERR, STY_CTRL), (B_OE1, B_OE1_ERR, STY_OE1), (B_OE2, B_OE2_ERR, STY_OE2)],
                CO2_PHASE_LABELS, CO2_PHASE_EDGES, CO2_BAND_COLORS, 180, X_TICKS_CO2,
                0.455, 0.4, 0.455, GS_TICKS, "%.1f", GS_LABEL, (45, 315, 10, 41, 160, 40),
                [(0, "Control", False, None, 0.770, 0.350), (1, "ARAD1", True, "OE 1", 0.770, 0.252),
                 (2, "ARAD1", True, "OE 2", 0.770, 0.170)], BOX_B)

pC = make_panel("C", None, False, T_CO2,
                [(C_CTRL, C_CTRL_ERR, STY_CTRL), (C_ARAD1, C_ARAD1_ERR, STY_ARAD1)],
                CO2_PHASE_LABELS, CO2_PHASE_EDGES, CO2_BAND_COLORS, 180, X_TICKS_CO2,
                20, 17.5, 20, AS_TICKS, "%d", AS_LABEL, (40, 310, 28, 18, 147, 33),
                [(0, "Control", False, None, 0.773, 0.740), (1, "arad1", True, None, 0.773, 0.651)], BOX_C)

pD = make_panel("D", None, False, T_CO2,
                [(D_CTRL, D_CTRL_ERR, STY_CTRL), (D_OE1, D_OE1_ERR, STY_OE1), (D_OE2, D_OE2_ERR, STY_OE2)],
                CO2_PHASE_LABELS, CO2_PHASE_EDGES, CO2_BAND_COLORS, 180, X_TICKS_CO2,
                20, 17.5, 20, AS_TICKS, "%d", AS_LABEL, (45, 315, 10, 17, 148, 33),
                [(0, "Control", False, None, 0.750, 0.751), (1, "ARAD1", True, "OE 1", 0.750, 0.656),
                 (2, "ARAD1", True, "OE 2", 0.750, 0.561)], BOX_D)

pE = make_panel("E", None, False, T_LIGHT,
                [(E_CTRL, E_CTRL_ERR, STY_CTRL), (E_ARAD1, E_ARAD1_ERR, STY_ARAD1)],
                LIGHT_PHASE_LABELS, LIGHT_PHASE_EDGES, LIGHT_BAND_COLORS, 149.5, X_TICKS_LIGHT,
                0.4, 0.356, 0.4, GS_TICKS, "%.1f", GS_LABEL, (40, 310, 28, 30, 155, 33),
                [(0, "Control", False, None, 0.844, 0.299), (1, "arad1", True, None, 0.844, 0.194)])

pF = make_panel("F", None, False, T_LIGHT,
                [(F_CTRL, F_CTRL_ERR, STY_CTRL), (F_OE1, F_OE1_ERR, STY_OE1_PINK)],
                LIGHT_PHASE_LABELS, LIGHT_PHASE_EDGES, LIGHT_BAND_COLORS, 149.5, X_TICKS_LIGHT,
                0.4, 0.356, 0.4, GS_TICKS, "%.1f", GS_LABEL, (45, 309, 16, 30, 155, 33),
                [(0, "Control", False, None, 0.762, 0.253), (1, "ARAD1 OE 1", True, None, 0.762, 0.158)])

pG = make_panel("G", None, False, T_LIGHT,
                [(G_CTRL, G_CTRL_ERR, STY_CTRL), (G_ARAD1, G_ARAD1_ERR, STY_ARAD1)],
                LIGHT_PHASE_LABELS, LIGHT_PHASE_EDGES, LIGHT_BAND_COLORS, 149.5, X_TICKS_LIGHT,
                20, 17.8, 20, AS_TICKS, "%d", AS_LABEL, (40, 310, 28, 25, 154, 33),
                [(0, "Control", False, None, 0.844, 0.394), (1, "arad1", True, None, 0.844, 0.292)])

pH = make_panel("H", None, False, T_LIGHT,
                [(H_CTRL, H_CTRL_ERR, STY_CTRL), (H_OE1, H_OE1_ERR, STY_OE1)],
                LIGHT_PHASE_LABELS, LIGHT_PHASE_EDGES, LIGHT_BAND_COLORS, 149.5, X_TICKS_LIGHT,
                20, 17.8, 20, AS_TICKS, "%d", AS_LABEL, (45, 309, 16, 25, 154, 33),
                [(0, "Control", False, None, 0.762, 0.299), (1, "ARAD1 OE 1", True, None, 0.762, 0.195)])

layout = column(row(pA, pB), row(pC, pD), row(pE, pF), row(pG, pH))

with open("out.html", "w") as f:
    f.write(file_html(layout, INLINE))
